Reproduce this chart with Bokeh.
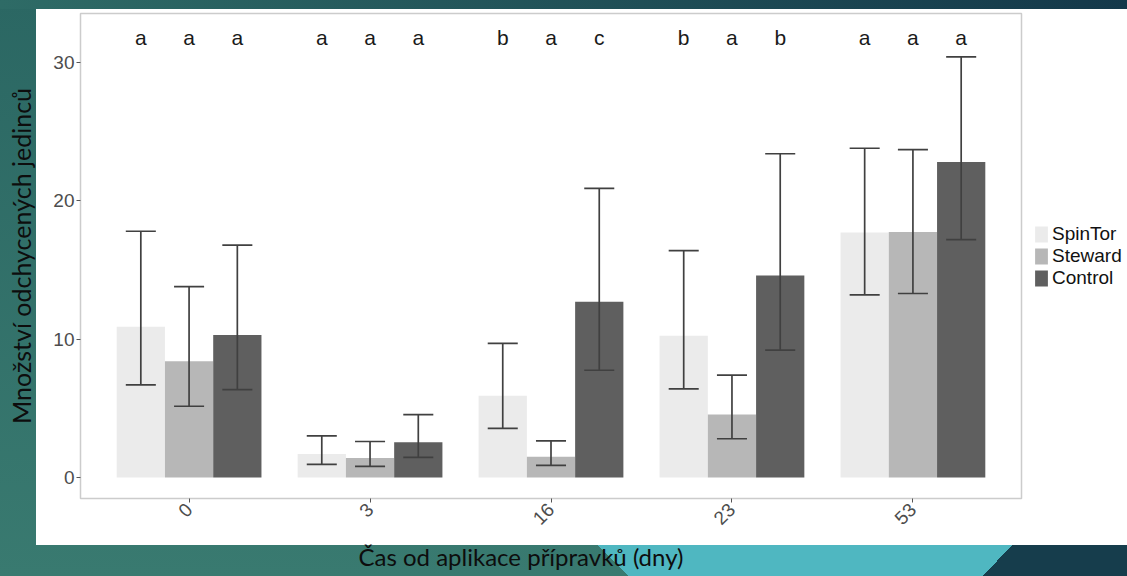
import math
from bokeh.plotting import figure
from bokeh.models import (ColumnDataSource, FactorRange, Range1d, FixedTicker, Legend, LegendItem, Title)
from bokeh.transform import dodge
from bokeh.core.properties import value
from bokeh.embed import file_html
from bokeh.resources import INLINE

# ---------------- data ----------------
days = ["0", "3", "16", "23", "53"]
treatments = ["SpinTor", "Steward", "Control"]

spintor_mean = [10.9, 1.7, 5.9, 10.25, 17.7]
spintor_low = [6.7, 0.95, 3.55, 6.4, 13.2]
spintor_high = [17.8, 3.0, 9.7, 16.4, 23.8]

steward_mean = [8.4, 1.4, 1.5, 4.55, 17.75]
steward_low = [5.15, 0.8, 0.87, 2.8, 13.3]
steward_high = [13.8, 2.6, 2.65, 7.4, 23.7]

control_mean = [10.3, 2.55, 12.7, 14.6, 22.8]
control_low = [6.35, 1.45, 7.75, 9.2, 17.2]
control_high = [16.8, 4.55, 20.9, 23.4, 30.4]

letters_spintor = ["a", "a", "b", "b", "a"]
letters_steward = ["a", "a", "a", "a", "a"]
letters_control = ["a", "a", "c", "b", "a"]

y_ticks = [0, 10, 20, 30]

x_title = "Čas od aplikace přípravků (dny)"
y_title = "Množství odchycených jedinců"

# ---------------- figure ----------------
TEAL = "#2e6b66"
CYAN = "#4fb7c1"
NAVY = "#163d4c"
slide_bg = ", ".join([
    "linear-gradient(#ffffff, #ffffff) 36px 9px / 1091px 536px no-repeat",
    "linear-gradient(to bottom left, %s 50%%, transparent 50%%) 598px 545px / 30px 31px no-repeat" % CYAN,
    "linear-gradient(%s, %s) 628px 545px / 355px 31px no-repeat" % (CYAN, CYAN),
    "linear-gradient(to bottom right, %s 50%%, %s 50%%) 983px 545px / 29px 31px no-repeat" % (CYAN, NAVY),
    "linear-gradient(%s, %s) 1012px 545px / 115px 31px no-repeat" % (NAVY, NAVY),
    "linear-gradient(to right, #2e6b66, #14384a) 0px 0px / 1127px 9px no-repeat",
    "linear-gradient(#2b6763, #397a70) 0px 0px / 1127px 576px no-repeat",
])

p = figure(frame_width=941, frame_height=485,
           x_range=FactorRange(factors=days, range_padding=0.1, range_padding_units="absolute"),
           y_range=Range1d(-1.52, 33.54),
           output_backend="svg", toolbar_location=None,
           min_border_left=80, min_border_right=106, min_border_top=13, min_border_bottom=0,
           border_fill_alpha=0, background_fill_color="white",
           styles={"background": slide_bg})

p.xgrid.visible = False
p.ygrid.visible = False
p.outline_line_color = "#cccccc"
p.outline_line_width = 1.5

bar_w = 0.8 / 3
cap = 0.083
err_col = "#404040"
letter_y = 31.8

series = [
    ("SpinTor", spintor_mean, spintor_low, spintor_high, letters_spintor, "#ebebeb", -bar_w),
    ("Steward", steward_mean, steward_low, steward_high, letters_steward, "#b7b7b7", 0.0),
    ("Control", control_mean, control_low, control_high, letters_control, "#5f5f5f", bar_w),
]

items = []
for name, m, lo, hi, let, col, off in series:
    src = ColumnDataSource(dict(day=days, mean=m, lo=lo, hi=hi, letter=let))
    r = p.vbar(x=dodge("day", off, range=p.x_range), top="mean", bottom=0, width=bar_w,
               source=src, fill_color=col, line_color=None)
    items.append(LegendItem(label=name, renderers=[r]))
    p.segment(x0=dodge("day", off, range=p.x_range), x1=dodge("day", off, range=p.x_range),
              y0="lo", y1="hi", source=src, line_color=err_col, line_width=1.7)
    p.segment(x0=dodge("day", off - cap, range=p.x_range), x1=dodge("day", off + cap, range=p.x_range),
              y0="hi", y1="hi", source=src, line_color=err_col, line_width=1.7)
    p.segment(x0=dodge("day", off - cap, range=p.x_range), x1=dodge("day", off + cap, range=p.x_range),
              y0="lo", y1="lo", source=src, line_color=err_col, line_width=1.7)
    p.text(x=dodge("day", off, range=p.x_range), y=letter_y, text="letter", source=src,
           text_font=value("Liberation Sans"), text_font_size="21px", text_color="#1a1a1a",
           text_align="center", text_baseline="middle")

legend = Legend(items=items, location="center_left", padding=2, margin=10, spacing=-4,
                glyph_width=16, glyph_height=20, label_height=18, label_standoff=3,
                label_text_font="Liberation Sans", label_text_font_size="19px",
                label_text_color="#111111", border_line_alpha=0, background_fill_alpha=0)
p.add_layout(legend, "right")

# axes
p.yaxis.ticker = FixedTicker(ticks=y_ticks)
for ax in (p.xaxis[0], p.yaxis[0]):
    ax.axis_line_color = None
    ax.major_tick_in = 0
    ax.major_tick_out = 4
    ax.major_tick_line_color = "#555555"
    ax.minor_tick_line_color = None
    ax.major_label_text_font = "Liberation Sans"
    ax.major_label_text_font_size = "19px"
    ax.major_label_text_color = "#4d4d4d"

p.yaxis.major_label_standoff = 2
p.yaxis.axis_label = y_title
p.yaxis.axis_label_standoff = 14
p.yaxis.axis_label_text_font = "Lato"
p.yaxis.axis_label_text_font_size = "25px"
p.yaxis.axis_label_text_font_style = "normal"
p.yaxis.axis_label_text_color = "#0d0d0d"

p.xaxis.major_label_orientation = math.pi / 4
p.xaxis.major_label_standoff = 4

xt = Title(text=x_title, align="left", offset=278, standoff=12,
           text_font="Lato", text_font_size="24px", text_font_style="normal",
           text_color="#0d0d0d")
p.add_layout(xt, "below")

html = file_html(p, INLINE)
html = html.replace("</head>",
                    "<style>html,body{margin:0;padding:0;overflow:hidden;background:%s;}</style></head>" % TEAL)
open("out.html", "w").write(html)
